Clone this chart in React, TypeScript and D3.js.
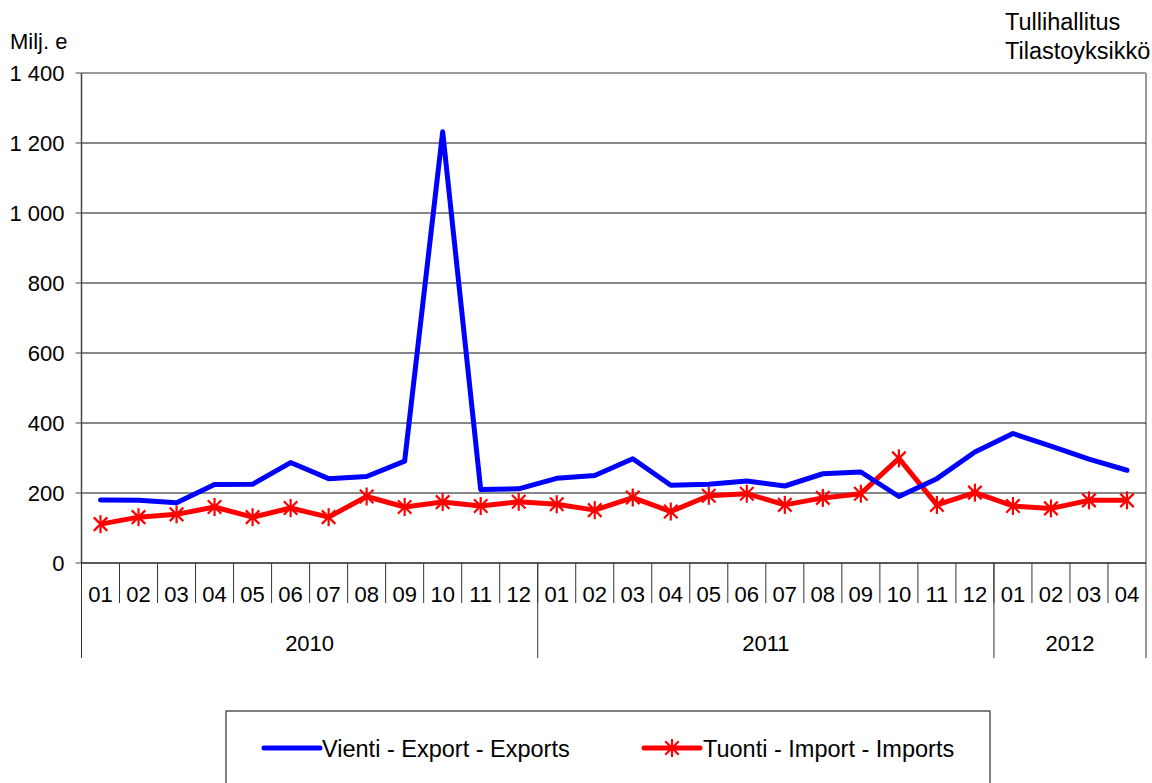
import React from "react";
import * as d3 from "d3";

const months = ["01","02","03","04","05","06","07","08","09","10","11","12","01","02","03","04","05","06","07","08","09","10","11","12","01","02","03","04"];
const years = [
  { label: "2010", start: 0, count: 12 },
  { label: "2011", start: 12, count: 12 },
  { label: "2012", start: 24, count: 4 },
];
const exportsValues = [180,179,172,224,225,287,241,247,291,1232,210,212,242,250,298,222,225,234,220,255,260,190,241,317,370,334,297,265];
const importsValues = [111,131,139,160,131,157,131,190,160,174,163,175,168,151,187,147,192,198,166,186,198,299,166,201,163,156,179,179];
const yTicks = [0,200,400,600,800,1000,1200,1400];
const legendItems = ["Vienti - Export - Exports", "Tuonti - Import - Imports"];

const W = 1152, H = 783;
const left = 81.5, right = 1146, top = 73, bottom = 563;
const font = "'Liberation Sans', Arial, sans-serif";
const FS = 22;
const FS2 = 23.5;

const fmt = (v: number) => {
  const s = String(v);
  return s.length > 3 ? s.slice(0, s.length - 3) + " " + s.slice(-3) : s;
};

function Star({ x, y, r, color }: { x: number; y: number; r: number; color: string }) {
  const d = r * 0.75;
  return (
    <g stroke={color} strokeWidth={2.2}>
      <line x1={x} y1={y - r} x2={x} y2={y + r} />
      <line x1={x - d} y1={y - d} x2={x + d} y2={y + d} />
      <line x1={x - d} y1={y + d} x2={x + d} y2={y - d} />
    </g>
  );
}

export default function App() {
  const band = d3.scaleBand<number>().domain(d3.range(months.length)).range([left, right]).padding(0);
  const y = d3.scaleLinear().domain([0, 1400]).range([bottom, top]);
  const cx = (i: number) => (band(i) as number) + band.bandwidth() / 2;
  const line = d3.line<number>().x((_, i) => cx(i)).y((v) => y(v));

  return (
    <svg width={W} height={H} style={{ position: "absolute", left: 0, top: 0, background: "#fff" }} fontFamily={font}>
      <line x1={left} y1={top} x2={right} y2={top} stroke="#999" strokeWidth={2} />
      <line x1={right} y1={top} x2={right} y2={bottom} stroke="#999" strokeWidth={2} />
      {yTicks.filter((t) => t > 0 && t < 1400).map((t) => (
        <line key={t} x1={left} x2={right} y1={y(t)} y2={y(t)} stroke="#111" strokeWidth={1} />
      ))}
      <line x1={left} x2={left} y1={top} y2={bottom} stroke="#444" strokeWidth={1.5} />
      {yTicks.map((t) => (
        <g key={t}>
          <line x1={left - 6} x2={left} y1={y(t)} y2={y(t)} stroke="#444" strokeWidth={1} />
          <text x={left - 17} y={y(t)} dy="0.36em" textAnchor="end" fontSize={FS} fill="#000">{fmt(t)}</text>
        </g>
      ))}
      <line x1={left} x2={right} y1={bottom} y2={bottom} stroke="#222" strokeWidth={1.5} />
      {months.map((m, i) => (
        <g key={i}>
          <line x1={band(i) as number} x2={band(i) as number} y1={bottom} y2={603} stroke="#333" strokeWidth={1} />
          <text x={cx(i)} y={602} textAnchor="middle" fontSize={FS} fill="#000">{m}</text>
        </g>
      ))}
      {years.map((yr) => {
        const x0 = band(yr.start) as number;
        const x1 = yr.start + yr.count < months.length ? (band(yr.start + yr.count) as number) : right;
        return (
          <g key={yr.label}>
            <line x1={x0} x2={x0} y1={bottom} y2={658} stroke="#333" strokeWidth={1} />
            <text x={(x0 + x1) / 2} y={651} textAnchor="middle" fontSize={FS} fill="#000">{yr.label}</text>
          </g>
        );
      })}
      <line x1={right} x2={right} y1={bottom} y2={658} stroke="#333" strokeWidth={1} />
      <path d={line(importsValues) as string} fill="none" stroke="#ff0000" strokeWidth={5} strokeLinejoin="round" />
      {importsValues.map((v, i) => (
        <Star key={i} x={cx(i)} y={y(v)} r={9} color="#ff0000" />
      ))}
      <path d={line(exportsValues) as string} fill="none" stroke="#0000ff" strokeWidth={5} strokeLinejoin="round" strokeLinecap="round" />
      <text x={10} y={49} fontSize={FS} fill="#000">Milj. e</text>
      <text x={1005} y={30} fontSize={FS2} fill="#000">Tullihallitus</text>
      <text x={1005} y={59} fontSize={FS2} fill="#000">Tilastoyksikkö</text>
      <rect x={226} y={711} width={764} height={80} fill="#fff" stroke="#555" strokeWidth={1.5} />
      <line x1={264} x2={320} y1={748} y2={748} stroke="#0000ff" strokeWidth={5} strokeLinecap="round" />
      <text x={322} y={749} dy="0.36em" fontSize={FS2} fill="#000">{legendItems[0]}</text>
      <line x1={644} x2={700} y1={748} y2={748} stroke="#ff0000" strokeWidth={5} strokeLinecap="round" />
      <Star x={672} y={748} r={9} color="#ff0000" />
      <text x={703} y={749} dy="0.36em" fontSize={FS2} fill="#000">{legendItems[1]}</text>
    </svg>
  );
}
